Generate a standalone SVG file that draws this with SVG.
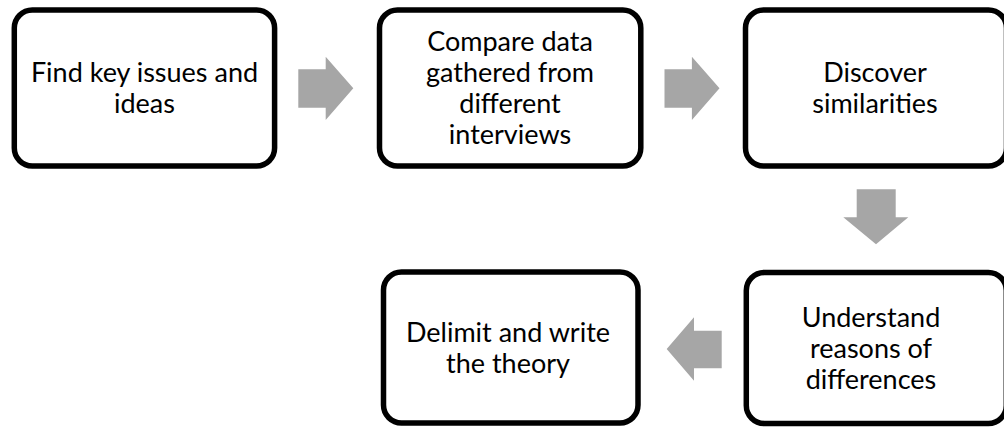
<svg xmlns="http://www.w3.org/2000/svg" width="1004" height="428" viewBox="0 0 1004 428">
<style>
.box{fill:#fff;stroke:#000;stroke-width:5.5}
.lbl{font-family:Lato,"Open Sans","Liberation Sans",sans-serif;font-size:27px;fill:#000;text-anchor:middle}
.arr{fill:#a6a6a6}
</style>
<rect width="1004" height="428" fill="#fff"/>
<g id="node1">
<rect class="box" x="14.3" y="10" width="260.3" height="156" rx="18"/>
<text class="lbl"><tspan x="144.5" y="81.7">Find key issues and</tspan><tspan x="144.5" y="112.7">ideas</tspan></text>
</g>
<g id="node2">
<rect class="box" x="379.5" y="10" width="261.3" height="156" rx="18"/>
<text class="lbl"><tspan x="510" y="50.7">Compare data</tspan><tspan x="510" y="81.7">gathered from</tspan><tspan x="510" y="112.7">different</tspan><tspan x="510" y="143.7">interviews</tspan></text>
</g>
<g id="node3">
<rect class="box" x="745.5" y="10" width="261" height="156" rx="18"/>
<text class="lbl"><tspan x="875" y="81.7">Discover</tspan><tspan x="875" y="112.7">similarities</tspan></text>
</g>
<g id="node4">
<rect class="box" x="746.3" y="272.5" width="260" height="151" rx="18"/>
<text class="lbl"><tspan x="871" y="326.5">Understand</tspan><tspan x="871" y="357.5">reasons of</tspan><tspan x="871" y="388.5">differences</tspan></text>
</g>
<g id="node5">
<rect class="box" x="383.5" y="272" width="254.5" height="151" rx="18"/>
<text class="lbl"><tspan x="508" y="342">Delimit and write</tspan><tspan x="508" y="373">the theory</tspan></text>
</g>
<g id="connectors">
<polygon class="arr" points="298.3,69.3 325.7,69.3 325.7,56.7 353.3,88.3 325.7,120 325.7,107.7 298.3,107.7"/>
<polygon class="arr" points="664.5,69.3 691.9,69.3 691.9,56.7 719.5,88.3 691.9,120 691.9,107.7 664.5,107.7"/>
<polygon class="arr" points="856.7,189.3 895.7,189.3 895.7,217.3 908.3,217.3 876,244.3 843.3,217.3 856.7,217.3"/>
<polygon class="arr" points="721.7,330.7 694,330.7 694,317.3 666.7,349 694,380.7 694,368.3 721.7,368.3"/>
</g>
</svg>
